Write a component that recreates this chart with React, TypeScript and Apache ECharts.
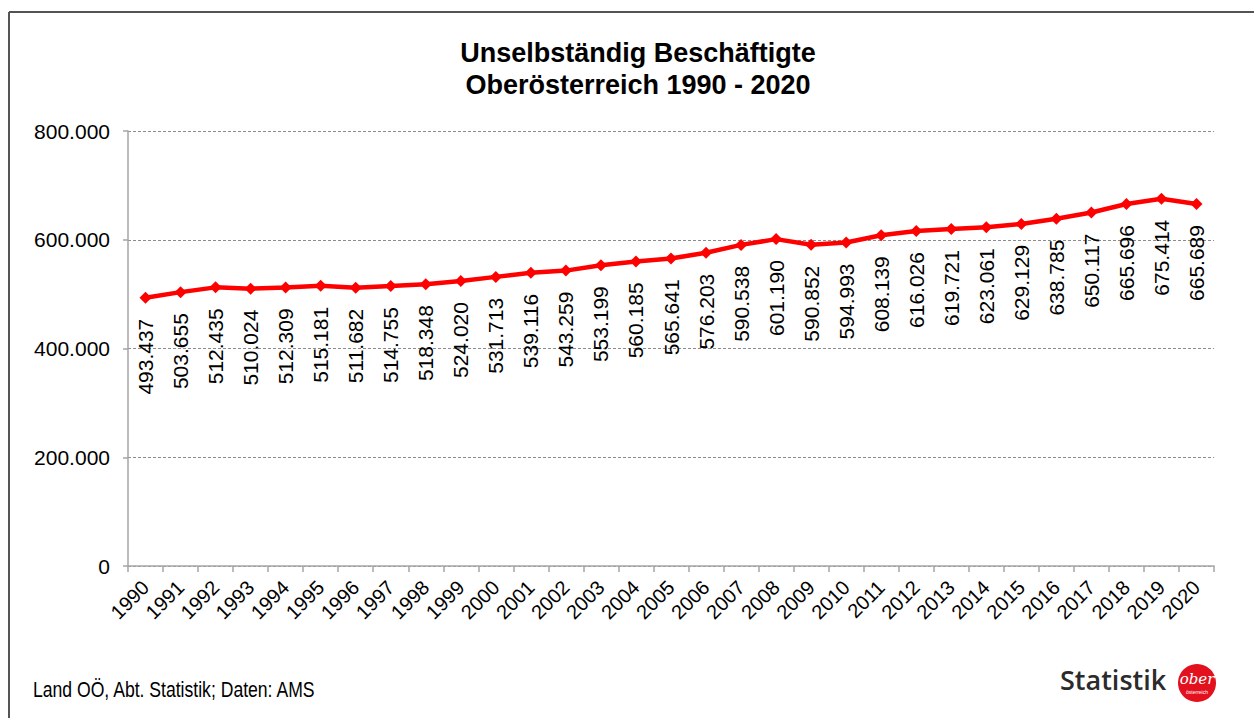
import React, { useEffect, useRef } from "react";
import * as echarts from "echarts";

const years = [
  "1990","1991","1992","1993","1994","1995","1996","1997","1998","1999",
  "2000","2001","2002","2003","2004","2005","2006","2007","2008","2009",
  "2010","2011","2012","2013","2014","2015","2016","2017","2018","2019","2020",
];
const employees = [
  493437, 503655, 512435, 510024, 512309, 515181, 511682, 514755, 518348, 524020,
  531713, 539116, 543259, 553199, 560185, 565641, 576203, 590538, 601190, 590852,
  594993, 608139, 616026, 619721, 623061, 629129, 638785, 650117, 665696, 675414, 665689,
];
const titleText = "Unselbständig Beschäftigte\nOberösterreich 1990 - 2020";
const sourceText = "Land OÖ, Abt. Statistik; Daten: AMS";

const fmt = (v: number) => {
  const s = Math.round(v).toString();
  return s.replace(/\B(?=(\d{3})+(?!\d))/g, ".");
};

export default function App() {
  const ref = useRef<HTMLDivElement>(null);
  useEffect(() => {
    if (!ref.current) return;
    const chart = echarts.init(ref.current, undefined, { renderer: "svg" });
    const font = "'Liberation Sans', Arial, sans-serif";
    chart.setOption({
      animation: false,
      backgroundColor: "#ffffff",
      title: {
        text: titleText,
        left: 633,
        textAlign: "center",
        top: 32,
        textStyle: {
          fontFamily: font,
          fontSize: 27,
          fontWeight: "bold",
          color: "#000",
          lineHeight: 32,
        },
      },
      grid: { left: 128, right: 40, top: 131, bottom: 152, containLabel: false },
      xAxis: {
        type: "category",
        data: years,
        boundaryGap: true,
        axisLine: { show: true, lineStyle: { color: "#A6A6A6", width: 1.5 } },
        axisTick: { show: true, length: 6, interval: 0, lineStyle: { color: "#A6A6A6", width: 1.5 } },
        axisLabel: {
          interval: 0,
          rotate: 45,
          margin: 18,
          fontFamily: font,
          fontSize: 20,
          color: "#000",
        },
      },
      yAxis: {
        type: "value",
        min: 0,
        max: 800000,
        interval: 200000,
        axisLine: { show: true, lineStyle: { color: "#A6A6A6", width: 1.5 } },
        axisTick: { show: true, length: 5, lineStyle: { color: "#A6A6A6", width: 1.5 } },
        splitLine: { show: true, lineStyle: { color: "#8C8C8C", type: [3, 2], width: 1 } },
        axisLabel: {
          margin: 18,
          fontFamily: font,
          fontSize: 21,
          color: "#000",
          formatter: (v: number) => fmt(v),
        },
      },
      series: [
        {
          type: "line",
          data: employees,
          symbol: "diamond",
          symbolSize: 12,
          lineStyle: { color: "#FF0000", width: 4.5 },
          itemStyle: { color: "#FF0000" },
          label: {
            show: true,
            position: "bottom",
            distance: 15,
            rotate: 90,
            align: "right",
            verticalAlign: "middle",
            fontFamily: font,
            fontSize: 21,
            color: "#000",
            formatter: (p: any) => fmt(p.value),
          },
        },
      ],
      graphic: [
        {
          type: "line",
          shape: { x1: 9, y1: 12, x2: 1254, y2: 12 },
          style: { stroke: "#1a1a1a", lineWidth: 1.5 },
        },
        {
          type: "line",
          shape: { x1: 9, y1: 12, x2: 9, y2: 718 },
          style: { stroke: "#555", lineWidth: 2 },
        },
        {
          type: "text",
          x: 33,
          y: 678,
          scaleX: 0.8,
          style: {
            text: sourceText,
            font: "22px 'Liberation Sans', Arial, sans-serif",
            fill: "#000",
          },
        },
        {
          type: "text",
          left: 1060,
          top: 666,
          style: {
            text: "Statistik",
            font: "600 27px 'Open Sans', 'Noto Sans', sans-serif",
            fill: "#2b2b2b",
          },
        },
        {
          type: "circle",
          shape: { cx: 1197, cy: 683, r: 19 },
          style: { fill: "#E3101E" },
        },
        {
          type: "text",
          x: 1197,
          y: 679,
          style: {
            text: "ober",
            font: "italic 15px 'DejaVu Serif', serif",
            fill: "#fff",
            align: "center",
            verticalAlign: "middle",
          },
        },
        {
          type: "text",
          x: 1197,
          y: 692,
          style: {
            text: "österreich",
            font: "5px 'Liberation Sans', sans-serif",
            fill: "#fff",
            align: "center",
            verticalAlign: "middle",
          },
        },
      ],
    });
    return () => chart.dispose();
  }, []);
  return (
    <div
      ref={ref}
      style={{ position: "fixed", left: 0, top: 0, width: 1254, height: 718 }}
    />
  );
}
